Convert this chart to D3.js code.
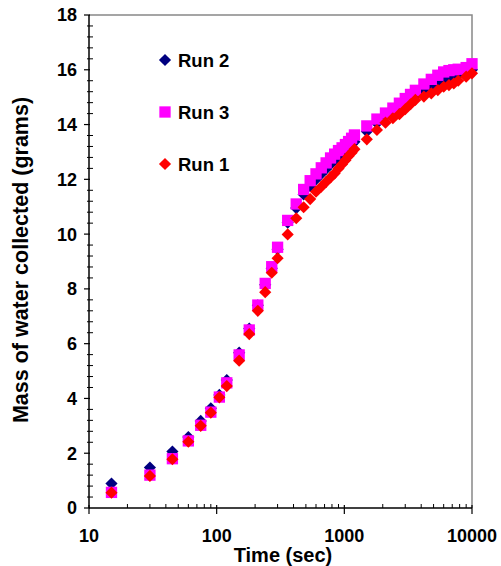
<!DOCTYPE html>
<html>
<head>
<meta charset="utf-8">
<script src="https://cdn.jsdelivr.net/npm/d3@7"></script>
<style>
  body { margin: 0; background: #fff; }
  text { font-family: Arial, "Liberation Sans", sans-serif; font-weight: bold; fill: #000; }
</style>
</head>
<body>
<script>
// sample times (sec), shared by all three runs
let times = [15, 30, 45, 60, 75, 90, 105, 120, 150, 180, 210, 240, 270, 300,
    360, 420, 480, 540, 600, 660, 720, 780, 840, 900, 960, 1020, 1080, 1140, 1200,
    1500, 1800, 2100, 2400, 2700, 3000, 3300, 3600, 4200, 4800, 5400, 6000,
    6600, 7200, 7800, 9000, 10000];

// mass of water collected (grams)
let run2 = [0.89, 1.48, 2.06, 2.59, 3.18, 3.64, 4.13, 4.67, 5.67, 6.55, 7.40, 8.15, 8.75, 9.45,
    10.42, 10.95, 11.45, 11.75, 12.00, 12.20, 12.38, 12.55, 12.70, 12.83, 12.95, 13.06, 13.17, 13.27, 13.37,
    13.75, 14.05, 14.30, 14.45, 14.60, 14.77, 14.92, 15.06, 15.25, 15.42, 15.55, 15.65,
    15.72, 15.78, 15.82, 15.88, 16.00];
let run3 = [0.57, 1.20, 1.80, 2.45, 3.02, 3.50, 4.05, 4.57, 5.59, 6.50, 7.41, 8.20, 8.81, 9.52,
    10.50, 11.10, 11.63, 11.95, 12.20, 12.42, 12.60, 12.78, 12.92, 13.05, 13.15, 13.27, 13.38, 13.50, 13.62,
    13.95, 14.20, 14.42, 14.60, 14.78, 14.95, 15.10, 15.25, 15.48, 15.65, 15.80, 15.92,
    15.97, 16.00, 16.02, 16.08, 16.22];
let run1 = [0.56, 1.17, 1.78, 2.42, 3.00, 3.48, 4.04, 4.45, 5.38, 6.35, 7.20, 7.88, 8.59, 9.12,
    9.99, 10.58, 10.98, 11.28, 11.55, 11.73, 11.91, 12.07, 12.22, 12.40, 12.55, 12.70, 12.85, 12.97, 13.10,
    13.46, 13.80, 14.07, 14.23, 14.38, 14.56, 14.74, 14.90, 15.02, 15.14, 15.26, 15.38,
    15.44, 15.50, 15.60, 15.75, 15.87];

let xTicks = [10, 100, 1000, 10000];
let yTicks = [0, 2, 4, 6, 8, 10, 12, 14, 16, 18];

let width = 501;
let height = 566;
let plotLeft = 89, plotRight = 472, plotTop = 15, plotBottom = 508;

let svg = d3.select("body").append("svg")
    .attr("width", width)
    .attr("height", height);

let x = d3.scaleLog().domain([10, 10000]).range([plotLeft, plotRight]);
let y = d3.scaleLinear().domain([0, 18]).range([plotBottom, plotTop]);

// grey frame on top and right
svg.append("path")
    .attr("d", "M" + plotLeft + "," + plotTop + "H" + plotRight + "V" + plotBottom)
    .attr("fill", "none")
    .attr("stroke", "#888")
    .attr("stroke-width", 1.5);

// minor ticks
let yMinor = d3.range(0, 18.01, 0.4).filter(v => Math.abs(v / 2 - Math.round(v / 2)) > 0.01);
svg.append("g").selectAll("line").data(yMinor).join("line")
    .attr("x1", plotLeft - 2).attr("x2", plotLeft + 4)
    .attr("y1", d => y(d)).attr("y2", d => y(d))
    .attr("stroke", "#000").attr("stroke-width", 1);

let xMinor = [];
[10, 100, 1000].forEach(dec => { for (let k = 2; k <= 9; k++) xMinor.push(dec * k); });
svg.append("g").selectAll("line").data(xMinor).join("line")
    .attr("x1", d => x(d)).attr("x2", d => x(d))
    .attr("y1", plotBottom - 4).attr("y2", plotBottom)
    .attr("stroke", "#000").attr("stroke-width", 1);

// major ticks
svg.append("g").selectAll("line").data(yTicks).join("line")
    .attr("x1", plotLeft - 5).attr("x2", plotLeft + 1)
    .attr("y1", d => y(d)).attr("y2", d => y(d))
    .attr("stroke", "#000").attr("stroke-width", 1.2);
svg.append("g").selectAll("line").data(xTicks).join("line")
    .attr("x1", d => x(d)).attr("x2", d => x(d))
    .attr("y1", plotBottom - 3).attr("y2", plotBottom + 6)
    .attr("stroke", "#000").attr("stroke-width", 1.2);

// axis lines
svg.append("line").attr("x1", plotLeft).attr("x2", plotLeft).attr("y1", plotTop).attr("y2", plotBottom)
    .attr("stroke", "#000").attr("stroke-width", 1.5);
svg.append("line").attr("x1", plotLeft).attr("x2", plotRight).attr("y1", plotBottom).attr("y2", plotBottom)
    .attr("stroke", "#000").attr("stroke-width", 1.5);

// tick labels
svg.append("g").selectAll("text").data(yTicks).join("text")
    .attr("x", plotLeft - 12)
    .attr("y", d => y(d))
    .attr("dy", "0.36em")
    .attr("text-anchor", "end")
    .style("font-size", "18px")
    .text(d => d);
svg.append("g").selectAll("text").data(xTicks).join("text")
    .attr("x", d => x(d))
    .attr("y", plotBottom + 34)
    .attr("text-anchor", "middle")
    .style("font-size", "18px")
    .text(d => d);

// axis titles
svg.append("text")
    .attr("x", 283)
    .attr("y", 562)
    .attr("text-anchor", "middle")
    .style("font-size", "20px")
    .text("Time (sec)");
svg.append("text")
    .attr("transform", "translate(28,260) rotate(-90)")
    .attr("text-anchor", "middle")
    .style("font-size", "21.5px")
    .text("Mass of water collected (grams)");

// markers
let diamond = d3.symbol().type(d3.symbolSquare).size(74);
let square = d3.symbol().type(d3.symbolSquare).size(128);

let series = [
    { name: "Run 2", vals: run2, color: "#000080", shape: "diamond" },
    { name: "Run 3", vals: run3, color: "#ff00ff", shape: "square" },
    { name: "Run 1", vals: run1, color: "#ff0000", shape: "diamond" }
];

series.forEach(s => {
    svg.append("g").selectAll("path").data(times).join("path")
        .attr("d", s.shape == "diamond" ? diamond : square)
        .attr("transform", (t, i) => "translate(" + x(t) + "," + y(s.vals[i]) + ")" + (s.shape == "diamond" ? " rotate(45)" : ""))
        .attr("fill", s.color);
});

// legend
let legend = svg.append("g");
series.forEach((s, i) => {
    let ly = 60 + i * 52;
    legend.append("path")
        .attr("d", s.shape == "diamond" ? diamond : square)
        .attr("transform", "translate(165," + ly + ")" + (s.shape == "diamond" ? " rotate(45)" : ""))
        .attr("fill", s.color);
    legend.append("text")
        .attr("x", 178)
        .attr("y", ly)
        .attr("dy", "0.36em")
        .style("font-size", "18.5px")
        .text(s.name);
});
</script>
</body>
</html>
